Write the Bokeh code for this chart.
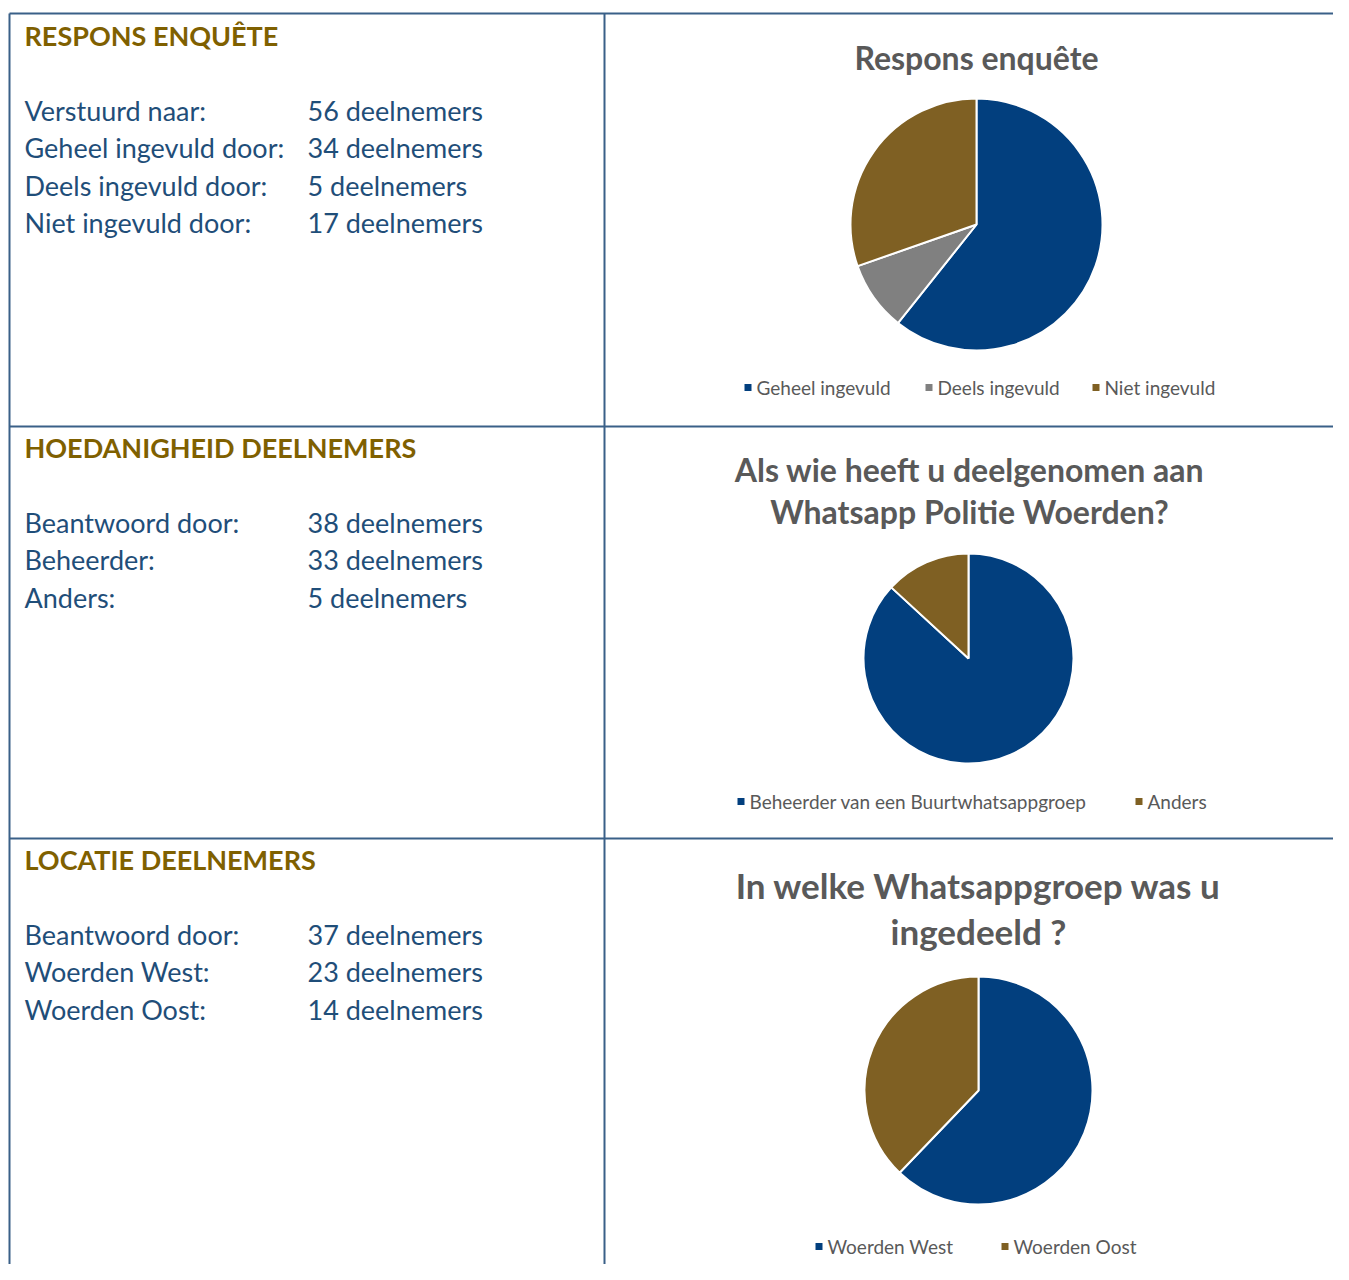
from math import pi
from bokeh.plotting import figure
from bokeh.models import Range1d
from bokeh.core.properties import value
from bokeh.embed import file_html
from bokeh.resources import INLINE

# ---------------- data ----------------
sec1_heading = "RESPONS ENQUÊTE"
sec1_labels = ["Verstuurd naar:", "Geheel ingevuld door:", "Deels ingevuld door:", "Niet ingevuld door:"]
sec1_values = ["56 deelnemers", "34 deelnemers", "5 deelnemers", "17 deelnemers"]

sec2_heading = "HOEDANIGHEID DEELNEMERS"
sec2_labels = ["Beantwoord door:", "Beheerder:", "Anders:"]
sec2_values = ["38 deelnemers", "33 deelnemers", "5 deelnemers"]

sec3_heading = "LOCATIE DEELNEMERS"
sec3_labels = ["Beantwoord door:", "Woerden West:", "Woerden Oost:"]
sec3_values = ["37 deelnemers", "23 deelnemers", "14 deelnemers"]

pie1_title = ["Respons enquête"]
pie1_cats = ["Geheel ingevuld", "Deels ingevuld", "Niet ingevuld"]
pie1_vals = [34, 5, 17]

pie2_title = ["Als wie heeft u deelgenomen aan", "Whatsapp Politie Woerden?"]
pie2_cats = ["Beheerder van een Buurtwhatsappgroep", "Anders"]
pie2_vals = [33, 5]

pie3_title = ["In welke Whatsappgroep was u", "ingedeeld ?"]
pie3_cats = ["Woerden West", "Woerden Oost"]
pie3_vals = [23, 14]

BLUE = "#023F7E"
GRAY = "#808080"
BROWN = "#7F6023"
pie1_colors = [BLUE, GRAY, BROWN]
pie2_colors = [BLUE, BROWN]
pie3_colors = [BLUE, BROWN]

TEXT_BLUE = "#1F4E79"
GOLD = "#7F6000"
TITLE_GRAY = "#595959"
LINE = "#3A6088"
FONT = "Lato"

W, H = 1333, 1264
p = figure(width=W, height=H, output_backend="svg", toolbar_location=None,
           x_range=Range1d(0, W), y_range=Range1d(1280 - H, 1280),
           min_border=0, outline_line_color=None, background_fill_color="white")
p.axis.visible = False
p.grid.visible = False


def Y(img_y):
    return 1280 - img_y


# grid lines
p.segment(x0=[9, 9, 604, 9, 9], y0=[Y(13), Y(13), Y(13), Y(426), Y(838)],
          x1=[1345, 9, 604, 1345, 1345], y1=[Y(13), Y(1280), Y(1280), Y(426), Y(838)],
          line_color=LINE, line_width=2)


def section(heading, labels, values, head_mid, row_mid0):
    p.text(x=[24], y=[Y(head_mid)], text=[heading], text_color=GOLD,
           text_font=value(FONT), text_font_style="bold", text_font_size="27px",
           text_baseline="middle")
    ys = [Y(row_mid0 + 37.4 * i) for i in range(len(labels))]
    p.text(x=[24] * len(labels), y=ys, text=labels, text_color=TEXT_BLUE,
           text_font=value(FONT), text_font_size="27px", text_baseline="middle")
    p.text(x=[307] * len(values), y=ys, text=values, text_color=TEXT_BLUE,
           text_font=value(FONT), text_font_size="27px", text_baseline="middle")


section(sec1_heading, sec1_labels, sec1_values, 35, 110)
section(sec2_heading, sec2_labels, sec2_values, 447, 522)
section(sec3_heading, sec3_labels, sec3_values, 859, 934)


def pie(cx, cy, r, vals, colors):
    total = float(sum(vals))
    starts, ends = [], []
    cum = 0.0
    for v in vals:
        s = cum / total
        cum += v
        e = cum / total
        ends.append(pi / 2 - s * 2 * pi)
        starts.append(pi / 2 - e * 2 * pi)
    p.wedge(x=[cx] * len(vals), y=[Y(cy)] * len(vals), radius=r,
            start_angle=starts, end_angle=ends, direction="anticlock",
            fill_color=colors, line_color="white", line_width=2)


def title(lines, cx, mid0, step, size):
    ys = [Y(mid0 + step * i) for i in range(len(lines))]
    p.text(x=[cx] * len(lines), y=ys, text=lines, text_color=TITLE_GRAY,
           text_font=value(FONT), text_font_style="bold", text_font_size=size,
           text_align="center", text_baseline="middle")


def legend(cats, colors, xs, ymid):
    p.rect(x=[x + 3.5 for x in xs], y=[Y(ymid)] * len(xs), width=7, height=7,
           fill_color=colors, line_color=None)
    p.text(x=[x + 12 for x in xs], y=[Y(ymid)] * len(xs), text=cats, text_color=TITLE_GRAY,
           text_font=value(FONT), text_font_size="19px", text_baseline="middle")


title(pie1_title, 976, 57, 0, "32px")
pie(976, 224, 126, pie1_vals, pie1_colors)
legend(pie1_cats, pie1_colors, [744, 925, 1092], 387)

title(pie2_title, 969, 469, 42, "32px")
pie(968, 658, 105, pie2_vals, pie2_colors)
legend(pie2_cats, pie2_colors, [737, 1135], 801)

title(pie3_title, 978, 884, 46, "35px")
pie(978, 1090, 114, pie3_vals, pie3_colors)
legend(pie3_cats, pie3_colors, [815, 1001], 1246)

open("out.html", "w").write(file_html(p, INLINE))
